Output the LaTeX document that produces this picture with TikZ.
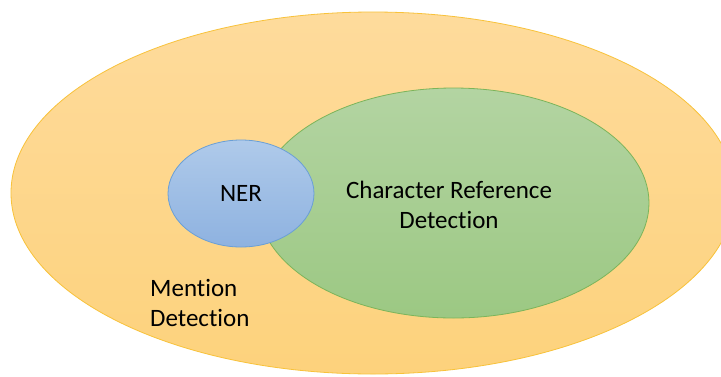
\documentclass[tikz,border=0pt]{standalone}
\usepackage{fontspec}
\setmainfont[Ligatures=NoCommon]{Carlito}
\usetikzlibrary{shapes.geometric}
\definecolor{orline}{HTML}{F8C23A}
\definecolor{ortop}{HTML}{FEDB9C}
\definecolor{orbot}{HTML}{FDD27C}
\definecolor{grline}{HTML}{7CB45A}
\definecolor{grtop}{HTML}{B3D4A2}
\definecolor{grbot}{HTML}{9CC883}
\definecolor{blline}{HTML}{6A9FD6}
\definecolor{bltop}{HTML}{AFCAEA}
\definecolor{blbot}{HTML}{8EB2E0}
\tikzset{
  blob/.style={ellipse, inner sep=0pt, outer sep=0pt, line width=0.8pt},
  lbl/.style={font=\fontsize{25}{30.5}\selectfont, inner sep=0pt, text=black}
}
\begin{document}
\begin{tikzpicture}[x=1pt,y=-1pt]
\useasboundingbox (0,0) rectangle (721,376);
\fill[white] (0,0) rectangle (721,376);
\clip (0,0) rectangle (721,376);
\node[blob, draw=orline, top color=ortop, bottom color=orbot,
  minimum width=724pt, minimum height=362pt] (md) at (373,193) {};
\node[blob, draw=grline, top color=grtop, bottom color=grbot,
  minimum width=391pt, minimum height=230pt] (crd) at (453.5,203) {};
\node[blob, draw=blline, top color=bltop, bottom color=blbot,
  minimum width=146pt, minimum height=107pt] (ner) at (241,193.5) {};
\node[lbl] (nert) at (ner.center) {NER};
\node[lbl, align=center] (crdt) at (449,205) {Character Reference\\Detection};
\node[lbl, align=left, anchor=north west] (mdt) at (150,279) {Mention\\Detection};
\end{tikzpicture}
\end{document}
